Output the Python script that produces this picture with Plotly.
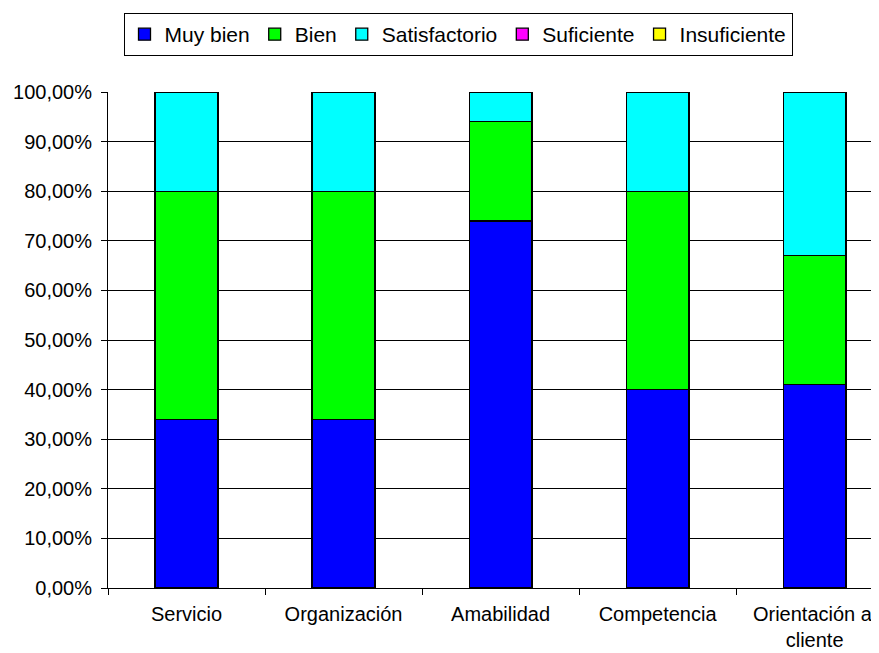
import plotly.graph_objects as go

categories = ["Servicio", "Organización", "Amabilidad", "Competencia", "Orientación al<br>cliente"]
muy_bien = [34, 34, 74, 40, 41]
bien = [46, 46, 20, 40, 26]
satisfactorio = [20, 20, 6, 20, 33]
suficiente = [0, 0, 0, 0, 0]
insuficiente = [0, 0, 0, 0, 0]
y_ticks = [0, 10, 20, 30, 40, 50, 60, 70, 80, 90, 100]
y_tick_labels = [f"{v},00%" for v in y_ticks]

series = [
    ("Muy bien", muy_bien, "#0000FF"),
    ("Bien", bien, "#00FF00"),
    ("Satisfactorio", satisfactorio, "#00FFFF"),
    ("Suficiente", suficiente, "#FF00FF"),
    ("Insuficiente", insuficiente, "#FFFF00"),
]

fig = go.Figure()
for name, vals, color in series:
    fig.add_trace(go.Bar(
        x=categories, y=vals, name=name,
        marker=dict(color=color, line=dict(color="black", width=1.3)),
        width=0.4,
    ))

font = dict(family="Liberation Sans, Arial, sans-serif", size=20, color="#000000")
fig.update_layout(
    barmode="stack",
    width=871, height=645,
    margin=dict(l=100, r=0, t=84, b=65),
    paper_bgcolor="white", plot_bgcolor="white",
    font=font,
    showlegend=True,
    legend=dict(
        orientation="h", xref="container", yref="container",
        x=(458 - 8) / 871, xanchor="center", y=1 - 5 / 645, yanchor="top",
        bordercolor="black", borderwidth=1, font=dict(size=21),
        traceorder="normal", itemwidth=30, tracegroupgap=0,
    ),
    xaxis=dict(
        range=[-0.5, 4.41], showline=True, linecolor="black", linewidth=1,
        ticks="outside", tickson="boundaries", ticklen=6, tickcolor="black",
        showgrid=False, tickfont=dict(size=20), ticklabelstandoff=8,
    ),
    yaxis=dict(
        range=[0, 100], tickvals=y_ticks, ticktext=y_tick_labels,
        showline=True, linecolor="black", linewidth=1,
        ticks="outside", ticklen=6, tickcolor="black",
        showgrid=True, gridcolor="black", gridwidth=1, zeroline=False,
        tickfont=dict(size=20), ticklabelstandoff=5,
    ),
)

fig.write_html("out.html")
